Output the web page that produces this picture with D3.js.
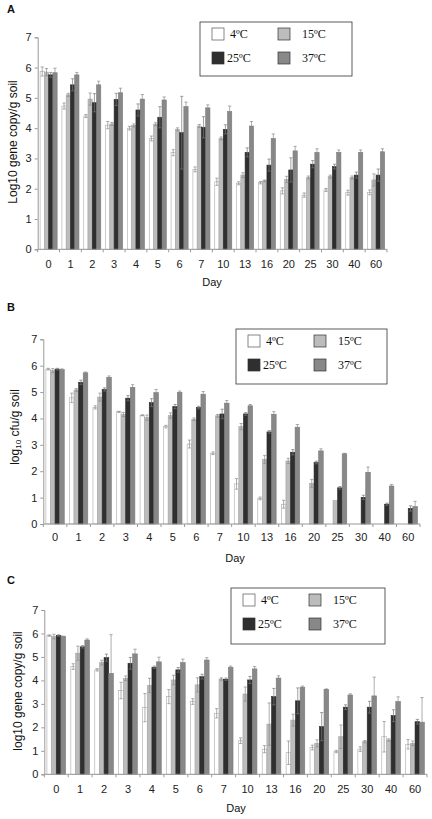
<!DOCTYPE html>
<html><head><meta charset="utf-8">
<script src="https://cdn.jsdelivr.net/npm/d3@7"></script>
<style>body{margin:0;background:#fff}svg{display:block}</style>
</head><body>
<svg id="chart" width="432" height="819"></svg>
<script>
const days = ["0","1","2","3","4","5","6","7","10","13","16","20","25","30","40","60"];
const seriesNames = ["4ºC","15ºC","25ºC","37ºC"];
const yTicks = [0,1,2,3,4,5,6,7];

// Panel A: Log10 gene copy/g soil
const a4  = [5.87,4.73,4.40,4.10,4.00,3.66,3.19,2.64,2.23,2.18,2.20,1.93,1.79,1.96,1.87,1.88];
const a15 = [5.85,5.10,4.96,4.14,4.09,4.13,3.96,4.07,3.66,2.45,2.26,2.31,2.37,2.40,2.37,2.29];
const a25 = [5.76,5.43,4.84,4.95,4.60,4.36,3.85,4.03,3.96,3.20,2.78,2.62,2.81,2.73,2.45,2.45];
const a37 = [5.83,5.76,5.43,5.17,4.96,4.93,4.71,4.67,4.55,4.07,3.66,3.25,3.20,3.20,3.20,3.22];
const a4e  = [0.15,0.10,0.05,0.12,0.06,0.08,0.10,0.08,0.12,0.05,0.04,0.10,0.07,0.05,0.08,0.08];
const a15e = [0.12,0.05,0.20,0.05,0.05,0.05,0.05,0.05,0.05,0.08,0.03,0.10,0.05,0.05,0.05,0.20];
const a25e = [0.08,0.20,0.30,0.20,0.20,0.35,1.20,0.35,0.15,0.15,0.20,0.40,0.12,0.08,0.10,0.20];
const a37e = [0.15,0.08,0.12,0.15,0.15,0.10,0.15,0.10,0.18,0.15,0.15,0.15,0.12,0.08,0.08,0.10];

// Panel B: log10 cfu/g soil
const b4  = [5.87,4.78,4.42,4.25,4.12,3.69,3.03,2.68,1.52,0.97,0.75,null,null,null,null,null];
const b15 = [5.81,5.08,4.81,4.15,4.03,4.11,3.97,4.10,3.69,2.45,2.39,1.54,0.89,null,null,null];
const b25 = [5.87,5.37,5.10,4.77,4.60,4.45,4.41,4.17,4.17,3.49,2.72,2.33,1.37,1.01,0.75,0.59];
const b37 = [5.85,5.73,5.56,5.18,4.98,4.99,4.92,4.58,4.48,4.16,3.67,2.77,2.66,1.96,1.44,0.66];
const b4e  = [0.03,0.18,0.06,0.02,0.02,0.05,0.15,0.05,0.20,0.05,0.15,0,0,0,0,0];
const b15e = [0.08,0.05,0.15,0.08,0.10,0.10,0.05,0.05,0.12,0.15,0.10,0.15,0,0,0,0];
const b25e = [0.03,0.08,0.06,0.10,0.15,0.08,0.05,0.18,0.05,0.05,0.10,0.05,0.05,0.08,0.04,0.10];
const b37e = [0.03,0.03,0.05,0.10,0.12,0.05,0.10,0.10,0.05,0.10,0.10,0.08,0.02,0.20,0.06,0.20];

// Panel C: log10 gene copy/g soil
const c4  = [5.91,4.59,4.45,3.57,2.84,3.31,3.10,2.60,1.43,1.07,0.92,1.14,0.97,1.07,1.60,1.28];
const c15 = [5.87,5.16,4.76,4.09,3.79,4.02,3.81,4.06,3.42,2.14,2.31,1.32,1.60,1.39,1.46,1.32];
const c25 = [5.91,5.43,4.97,4.73,4.56,4.45,4.16,4.05,4.02,3.31,3.13,2.03,2.86,2.86,2.50,2.24];
const c37 = [5.87,5.72,4.30,5.13,4.79,4.76,4.87,4.56,4.49,4.10,3.71,3.62,3.38,3.34,3.10,2.22];
const c4e  = [0.03,0.12,0.05,0.35,0.60,0.30,0.12,0.20,0.12,0.15,0.50,0.10,0.05,0.10,0.65,0.20];
const c15e = [0.10,0.30,0.10,0.10,0.30,0.20,0.30,0.05,0.30,0.90,0.25,0.15,0.50,0.05,0.05,0.10];
const c25e = [0.03,0.05,0.15,0.25,0.05,0.10,0.10,0.05,0.15,0.35,0.55,0.60,0.10,0.25,0.25,0.10];
const c37e = [0.02,0.05,1.65,0.20,0.20,0.15,0.10,0.05,0.10,0.10,0.05,0.02,0.05,0.80,0.20,1.05];

const fills = ["#ffffff","#bcbcbc","#2f2f2f","#888888"];
const strokes = ["#aaaaaa","#a8a8a8","#2a2a2a","#7a7a7a"];

const panels = [
  {letter:"A", lx:7, ly:13, x0:37.7, x1:387, y0:249.3, y7:37.3, vals:[a4,a15,a25,a37], errs:[a4e,a15e,a25e,a37e],
   ylab:[{t:"Log10 gene copy/g soil"}], ylx:17, yly:142, dayX:212, dayY:286, tickY:268,
   leg:{x:200,y:22,w:152,h:54}},
  {letter:"B", lx:7, ly:311, x0:43.3, x1:420, y0:524, y7:339.3, vals:[b4,b15,b25,b37], errs:[b4e,b15e,b25e,b37e],
   ylab:[{t:"log"},{t:"10",sub:true},{t:" cfu/g soil"}], ylx:19, yly:427, dayX:235, dayY:562, tickY:541,
   leg:{x:236,y:329,w:151,h:55}},
  {letter:"C", lx:7, ly:584, x0:44.3, x1:427, y0:774.3, y7:610, vals:[c4,c15,c25,c37], errs:[c4e,c15e,c25e,c37e],
   ylab:[{t:"log10 gene copy/g soil"}], ylx:22, yly:691, dayX:236, dayY:812, tickY:793,
   leg:{x:231,y:588,w:154,h:56}}
];

const svg = d3.select("#chart");
const font = "Liberation Sans, Arial, sans-serif";
const serif = "Liberation Serif, Times New Roman, serif";

panels.forEach(p => {
  const g = svg.append("g");
  const x = d3.scaleBand().domain(days).range([p.x0, p.x1]).paddingInner(0.22).paddingOuter(0.11);
  const xs = d3.scaleBand().domain(d3.range(4)).range([0, x.bandwidth()]);
  const y = d3.scaleLinear().domain([0,7]).range([p.y0, p.y7]);
  const step = (p.x1 - p.x0) / days.length;

  // title letter
  g.append("text").attr("x", p.lx).attr("y", p.ly).text(p.letter)
    .attr("font-family", font).attr("font-weight", "bold").attr("font-size", 11).attr("fill", "#111");

  // bars
  for (let s = 0; s < 4; s++) {
    const data = days.map((d,i) => ({d, v:p.vals[s][i], e:p.errs[s][i]})).filter(o => o.v != null);
    g.selectAll(null).data(data).enter().append("rect")
      .attr("x", o => x(o.d) + xs(s))
      .attr("y", o => y(o.v))
      .attr("width", xs.bandwidth())
      .attr("height", o => y(0) - y(o.v))
      .attr("fill", fills[s]).attr("stroke", strokes[s]).attr("stroke-width", 0.6);
  }
  // error bars
  for (let s = 0; s < 4; s++) {
    const data = days.map((d,i) => ({d, v:p.vals[s][i], e:p.errs[s][i]})).filter(o => o.v != null && o.e > 0);
    const cx = o => x(o.d) + xs(s) + xs.bandwidth()/2;
    const eg = g.append("g").attr("stroke", s === 2 ? "#777" : "#8a8a8a").attr("stroke-width", 0.7).attr("fill","none");
    eg.selectAll(null).data(data).enter().append("path")
      .attr("d", o => {
        const c = cx(o), t = y(o.v + o.e), b = y(Math.max(0, o.v - o.e)), w = 1.6;
        return `M${c},${t}V${b}M${c-w},${t}H${c+w}M${c-w},${b}H${c+w}`;
      });
  }

  // y axis
  const yAxis = d3.axisLeft(y).tickValues(yTicks).tickSize(3).tickFormat(d3.format("d"));
  const ya = g.append("g").attr("transform", `translate(${p.x0},0)`).call(yAxis);
  ya.select(".domain").attr("stroke", "#999");
  ya.selectAll(".tick line").attr("stroke", "#999");
  ya.selectAll("text").attr("font-family", font).attr("font-size", 11).attr("fill", "#222").attr("x", -6);

  // x axis
  const xAxis = d3.axisBottom(x).tickSize(0).tickPadding(10);
  const xa = g.append("g").attr("transform", `translate(0,${p.y0})`).call(xAxis);
  xa.select(".domain").attr("stroke", "#999").attr("d", `M${p.x0},0H${p.x1}`);
  xa.selectAll("text").attr("font-family", font).attr("font-size", 11).attr("fill", "#222")
    .attr("y", null).attr("dy", null).attr("transform", null)
    .each(function(){ d3.select(this).attr("y", p.tickY - p.y0); });
  // category boundary ticks
  xa.selectAll(null).data(d3.range(days.length + 1)).enter().append("line")
    .attr("x1", i => p.x0 + i*step).attr("x2", i => p.x0 + i*step)
    .attr("y1", 0).attr("y2", 3).attr("stroke", "#999");

  // y label
  const yl = g.append("text").attr("transform", `translate(${p.ylx},${p.yly}) rotate(-90)`)
    .attr("text-anchor", "middle").attr("font-family", font).attr("font-size", 12).attr("fill", "#111");
  p.ylab.forEach(part => {
    const ts = yl.append("tspan").text(part.t);
    if (part.sub) ts.attr("font-size", 8).attr("dy", 2);
    else if (yl.selectAll("tspan").size() > 1) ts.attr("dy", -2);
  });

  // x label
  g.append("text").attr("x", p.dayX).attr("y", p.dayY).attr("text-anchor","middle").text("Day")
    .attr("font-family", font).attr("font-size", 11).attr("fill", "#111");

  // legend
  const L = p.leg;
  const lg = g.append("g").attr("transform", `translate(${L.x},${L.y})`);
  lg.append("rect").attr("x",0).attr("y",0).attr("width",L.w).attr("height",L.h)
    .attr("fill","#fff").attr("stroke","#333").attr("stroke-width",0.8);
  const pos = [[12,6],[78,6],[12,30],[78,30]];
  seriesNames.forEach((n,i) => {
    const [px,py] = pos[i];
    lg.append("rect").attr("x",px).attr("y",py).attr("width",12).attr("height",12)
      .attr("fill", fills[i]).attr("stroke", i===0 ? "#555" : "#333").attr("stroke-width",0.7);
    const tx = i===2 ? px+15 : (i===0 ? px+18 : px+24);
    lg.append("text").attr("x", tx).attr("y", py+10).text(n)
      .attr("font-family", serif).attr("font-size", 12).attr("fill","#111");
  });
});
</script>
</body></html>
